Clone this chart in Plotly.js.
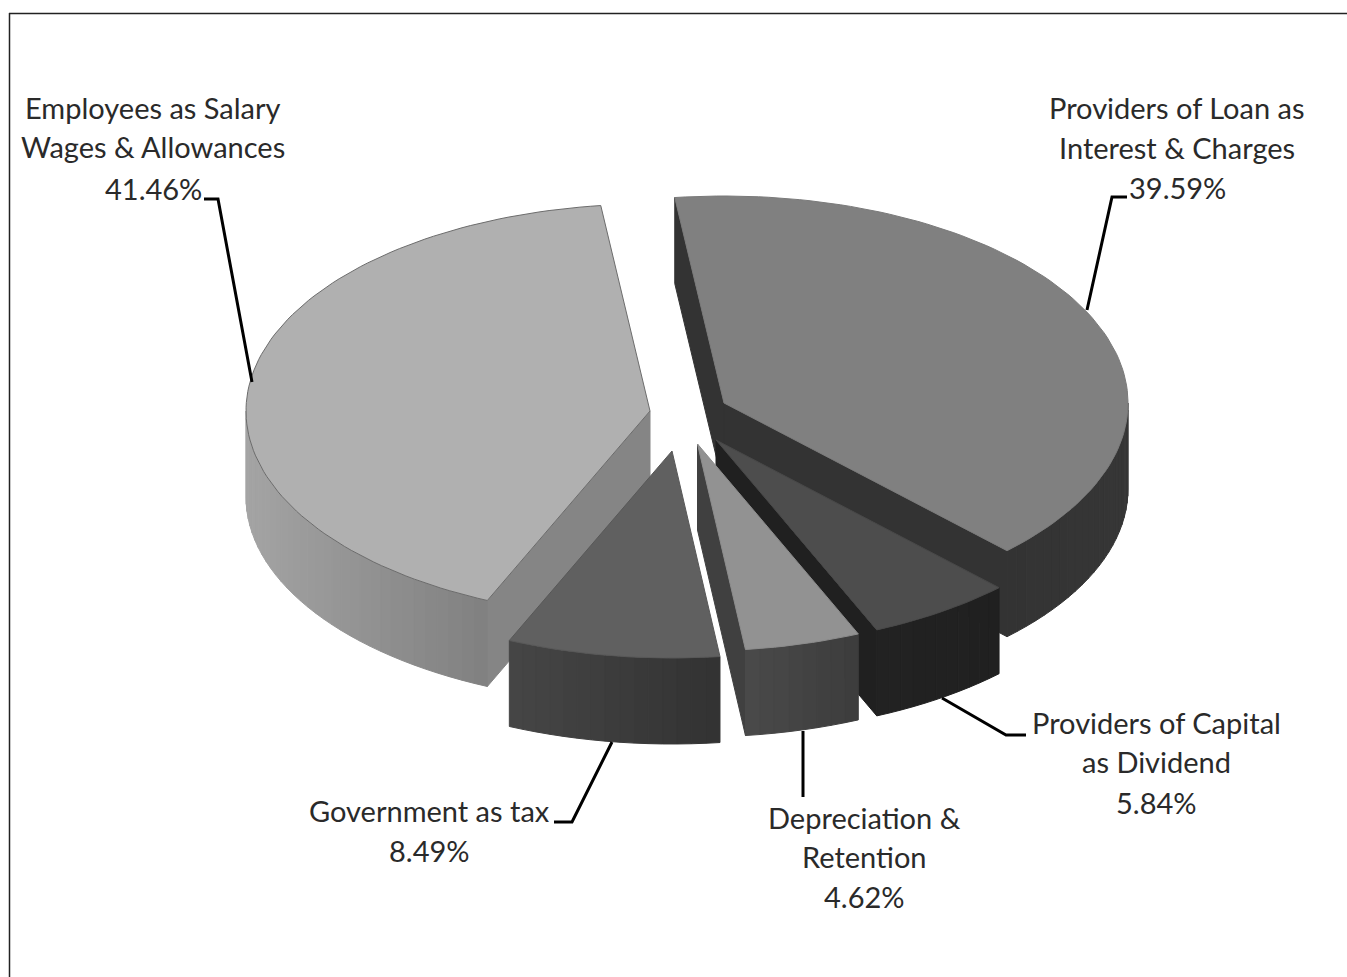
<!DOCTYPE html>
<html>
<head>
<meta charset="utf-8">
<script src="https://cdn.plot.ly/plotly-3.0.1.min.js"></script>
<style>html,body{margin:0;padding:0;background:#fff}#chart{width:1347px;height:977px}</style>
</head>
<body>
<div id="chart"></div>
<script>
// Value added distribution, in clockwise order from the top of the pie
const categories = [
  ['Providers of Loan as', 'Interest & Charges'],
  ['Providers of Capital', 'as Dividend'],
  ['Depreciation &', 'Retention'],
  ['Government as tax'],
  ['Employees as Salary', 'Wages & Allowances']
];
const shares = [39.59, 5.84, 4.62, 8.49, 41.46];

// Projection of the tilted pie, in pixel units of the hidden axes
const RX = 404, RY = 207, DEPTH = 86, START_DEG = -7;
const apexX = [724, 716, 697.5, 672, 650];
const apexY = [403, 440, 444, 451, 411];
const topFill = ['#808080', '#4d4d4d', '#929292', '#606060', '#b0b0b0'];
const topEdge = ['#7a7a7a', '#484848', '#8c8c8c', '#585858', '#6c6c6c'];
const sideFill = ['#333333', '#202020', '#404040', '#3a3a3a', '#858585'];
const wallLeft  = [[0x33,0x33,0x33], [0x22,0x22,0x22], [0x4a,0x4a,0x4a], [0x46,0x46,0x46], [0xa4,0xa4,0xa4]];
const wallRight = [[0x36,0x36,0x36], [0x20,0x20,0x20], [0x3c,0x3c,0x3c], [0x32,0x32,0x32], [0x80,0x80,0x80]];
const paintOrder = [0, 4, 1, 2, 3];

// Leader lines and label placement for each category
const leaders = [
  {x: [1127, 1112, 1087], y: [197, 197, 310]},
  {x: [942, 1006, 1026], y: [698, 735, 735]},
  {x: [803, 803], y: [731, 797]},
  {x: [612, 572, 554], y: [742, 822, 822]},
  {x: [204, 218, 252], y: [199, 199, 382]}
];
const labelX = [1177, 1156, 864, 429, 153];
const labelY = [[107, 147, 187], [722, 761, 802], [817, 856, 896], [810, 850], [107, 146, 188]];

const rad = d => d * Math.PI / 180;
const traces = [];

function polygon(xs, ys, fill, edge) {
  traces.push({
    type: 'scatter', mode: 'lines', x: xs.concat(xs[0]), y: ys.concat(ys[0]),
    fill: 'toself', fillcolor: fill,
    line: {color: edge || fill, width: 1},
    hoverinfo: 'skip', showlegend: false
  });
}

function rimPoint(i, deg) {
  return [apexX[i] + RX * Math.sin(rad(deg)), apexY[i] - RY * Math.cos(rad(deg))];
}

// Cumulative angles derived from the shares
const bounds = [];
let running = START_DEG;
shares.forEach(s => { bounds.push([running, running + s * 3.6]); running += s * 3.6; });

function sideFace(i, deg) {
  const [x, y] = rimPoint(i, deg);
  polygon([apexX[i], x, x, apexX[i]], [apexY[i], y, y + DEPTH, apexY[i] + DEPTH], sideFill[i]);
}

// Rim wall built from narrow strips, shaded left to right
function outerWall(i, from, to) {
  if (to <= from) return;
  const steps = Math.max(4, Math.round((to - from) / 2));
  const [xRight] = rimPoint(i, from), [xLeft] = rimPoint(i, to);
  for (let k = 0; k < steps; k++) {
    const [ax, ay] = rimPoint(i, to - (to - from) * k / steps);
    const [bx, by] = rimPoint(i, to - (to - from) * (k + 1) / steps);
    const t = ((ax + bx) / 2 - xLeft) / (xRight - xLeft);
    const c = wallLeft[i].map((v, n) => Math.round(v + (wallRight[i][n] - v) * t));
    polygon([ax, bx, bx, ax], [ay, by, by + DEPTH, ay + DEPTH], `rgb(${c.join(',')})`);
  }
}

function topFace(i) {
  const [a, b] = bounds[i];
  const xs = [apexX[i]], ys = [apexY[i]];
  const steps = Math.ceil((b - a) / 1.5);
  for (let k = 0; k <= steps; k++) {
    const [x, y] = rimPoint(i, a + (b - a) * k / steps);
    xs.push(x); ys.push(y);
  }
  polygon(xs, ys, topFill[i], topEdge[i]);
}

paintOrder.forEach(i => {
  const [a, b] = bounds[i];
  // Only the cut faces turned towards the viewer are drawn
  if (Math.sin(rad(a)) < 0) sideFace(i, a);
  if (Math.sin(rad(b)) > 0) sideFace(i, b);
  // The rim wall shows on the front half of the pie
  outerWall(i, Math.max(a, 90), Math.min(b, 270));
  topFace(i);
});

leaders.forEach(l => traces.push({
  type: 'scatter', mode: 'lines', x: l.x, y: l.y,
  line: {color: '#000000', width: 3}, hoverinfo: 'skip', showlegend: false
}));

// One annotation per text line keeps the line pitch independent of the font
const annotations = [];
categories.forEach((lines, i) => {
  lines.concat(shares[i].toFixed(2) + '%').forEach((text, n) => {
    annotations.push({
      x: labelX[i], y: labelY[i][n], xref: 'x', yref: 'y', text,
      showarrow: false, xanchor: 'center', yanchor: 'middle',
      font: {family: 'Lato, "Open Sans", sans-serif', size: 29, color: '#2a2a2a'}
    });
  });
});

const hiddenAxis = {visible: false, fixedrange: true, showgrid: false, zeroline: false};
Plotly.newPlot('chart', traces, {
  width: 1347, height: 977,
  margin: {l: 0, r: 0, t: 0, b: 0},
  paper_bgcolor: '#ffffff', plot_bgcolor: '#ffffff',
  showlegend: false,
  xaxis: Object.assign({range: [0, 1347]}, hiddenAxis),
  yaxis: Object.assign({range: [977, 0]}, hiddenAxis),
  annotations,
  shapes: [
    {type: 'line', xref: 'x', yref: 'y', x0: 9.5, x1: 9.5, y0: 13, y1: 977, line: {color: '#222222', width: 1.5}},
    {type: 'line', xref: 'x', yref: 'y', x0: 9, x1: 1347, y0: 13.5, y1: 13.5, line: {color: '#222222', width: 1.5}}
  ]
}, {displayModeBar: false, staticPlot: true});
</script>
</body>
</html>
